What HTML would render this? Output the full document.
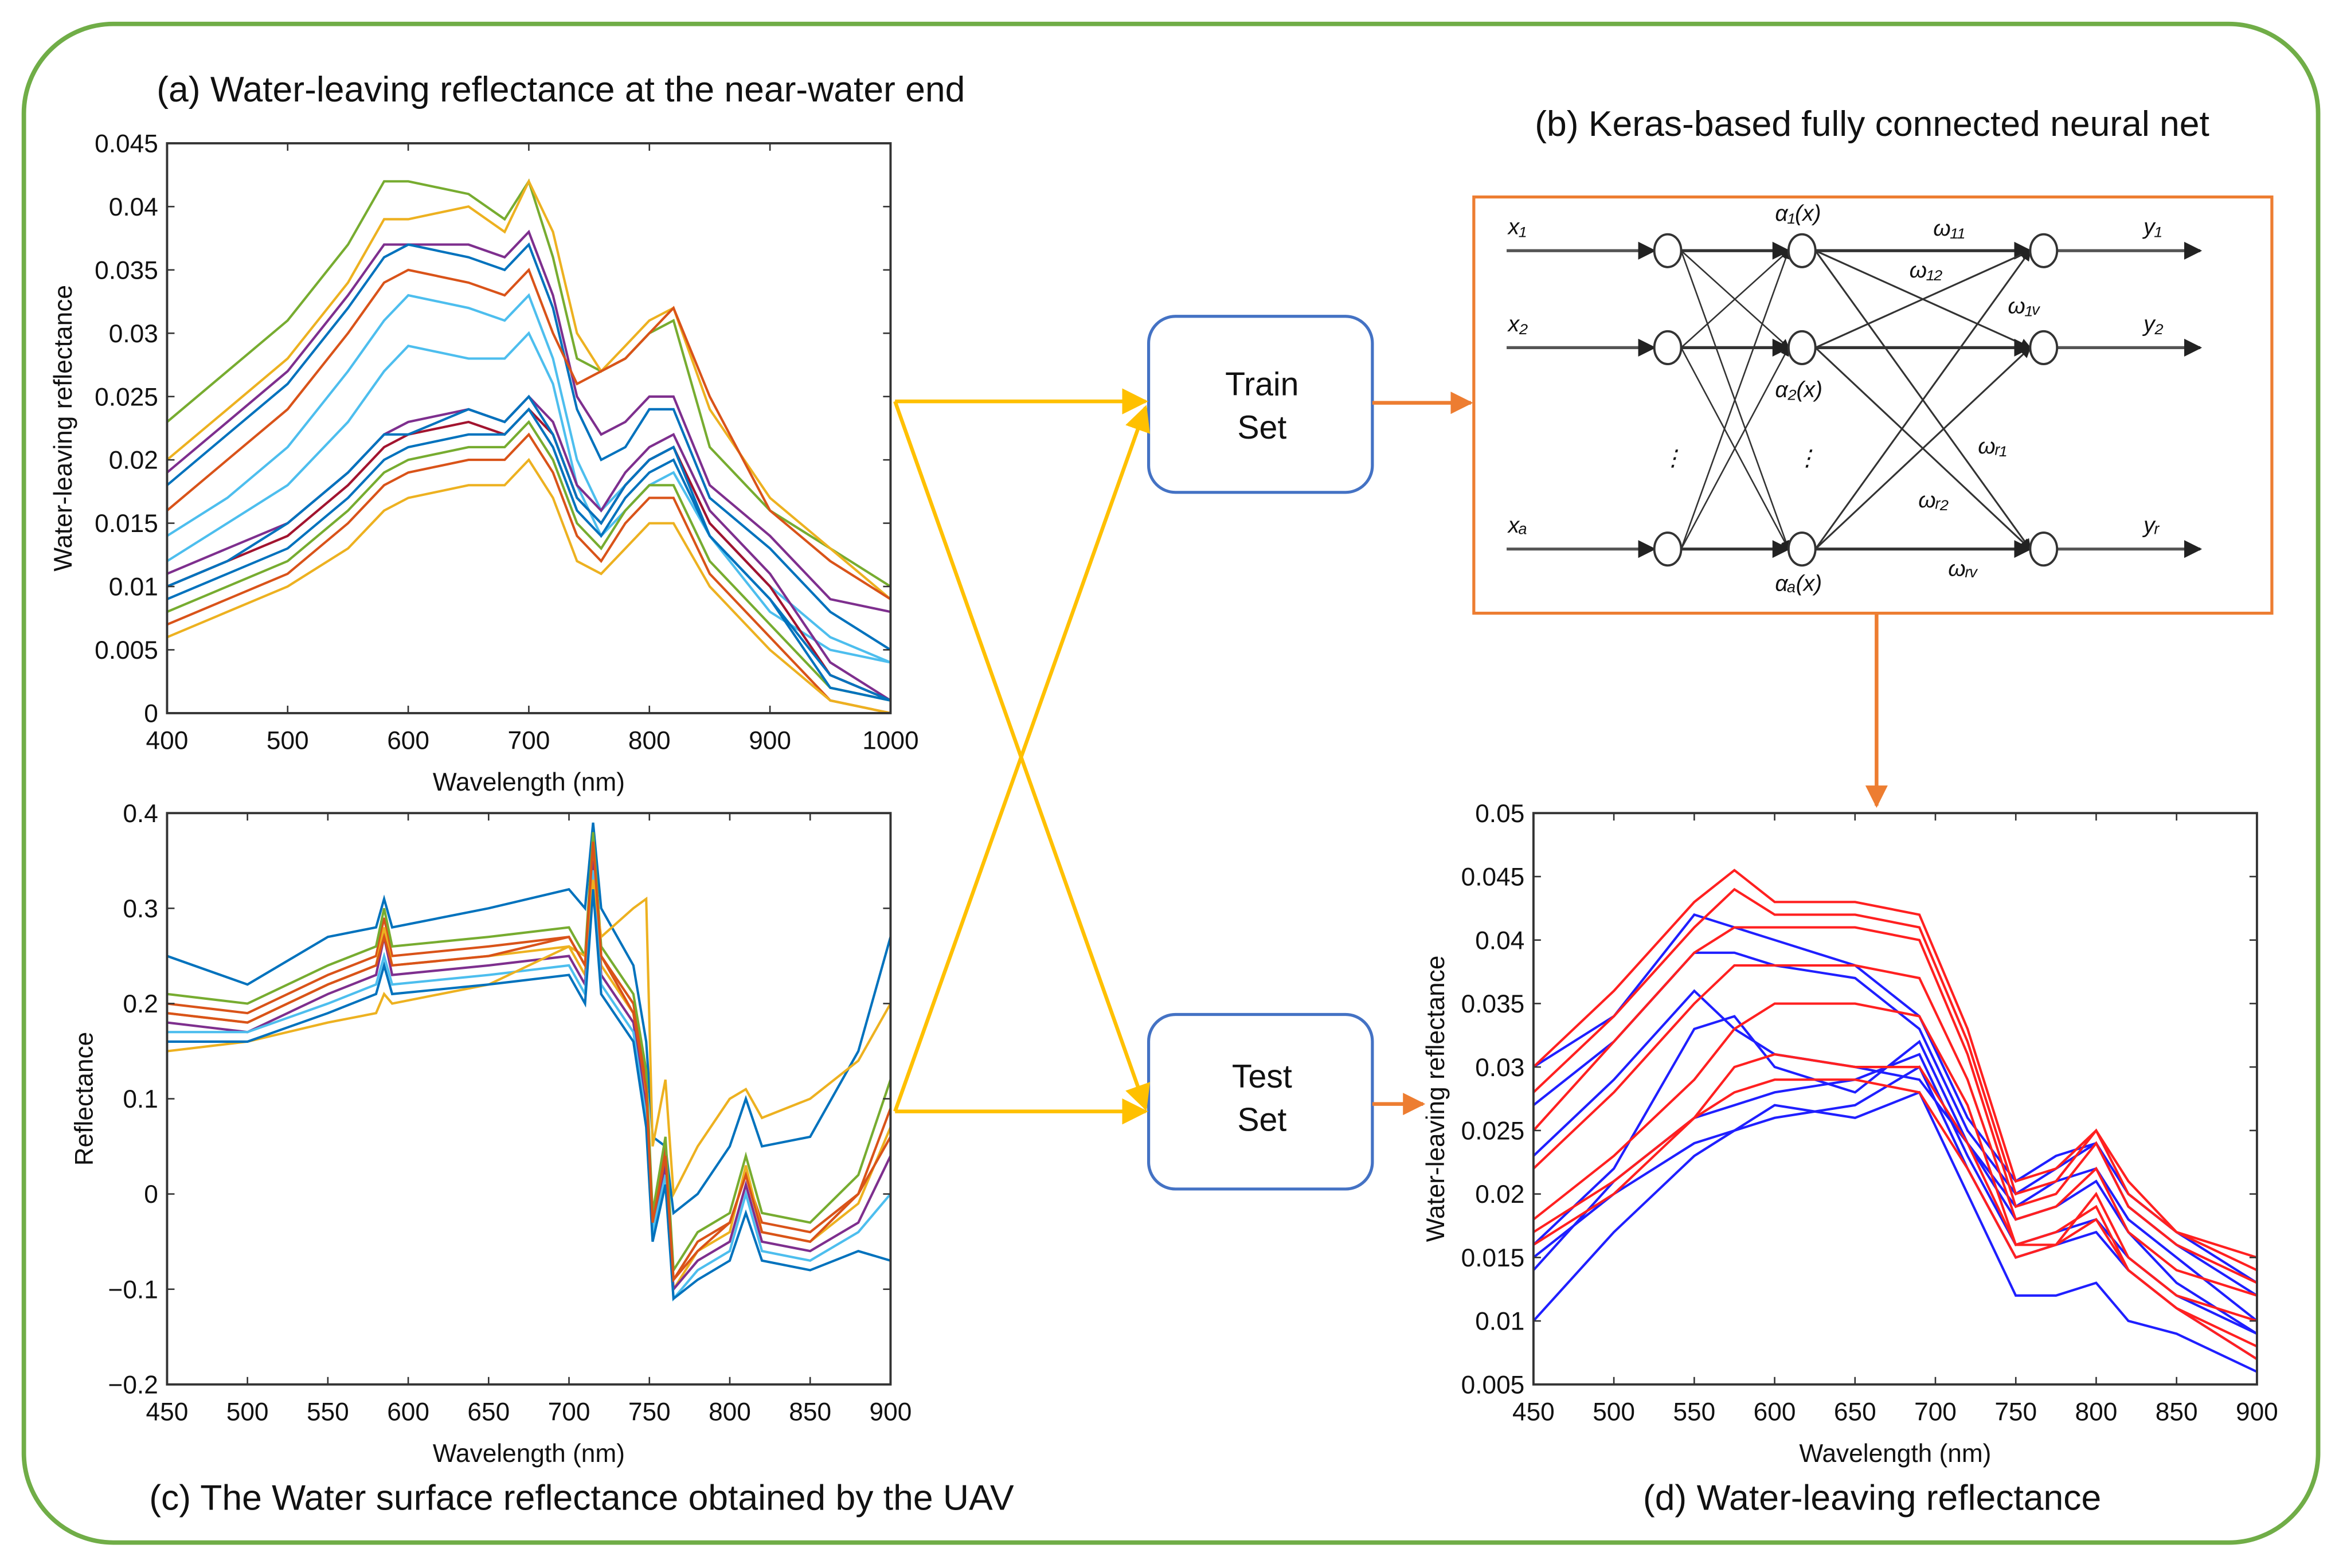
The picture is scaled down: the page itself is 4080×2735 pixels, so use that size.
<!DOCTYPE html>
<html><head><meta charset="utf-8"><style>
html,body{margin:0;padding:0;background:#fff}
svg{display:block}
text{font-family:"Liberation Sans",sans-serif;fill:#111}
</style></head><body>
<svg id="root" width="4080" height="2735" viewBox="0 0 1568 1051" xmlns="http://www.w3.org/2000/svg">
<defs>
<marker id="ay" viewBox="0 0 10 10" refX="9" refY="5" markerWidth="7" markerHeight="7" orient="auto"><path d="M0,0L10,5L0,10z" fill="#ffc000"/></marker>
<marker id="ao" viewBox="0 0 10 10" refX="9" refY="5" markerWidth="6" markerHeight="6" orient="auto"><path d="M0,0L10,5L0,10z" fill="#ed7d31"/></marker>
<marker id="ak" viewBox="0 0 10 10" refX="9" refY="5" markerWidth="6" markerHeight="6" orient="auto"><path d="M0,0L10,5L0,10z" fill="#222"/></marker>
</defs>
<rect x="16" y="16" width="1538" height="1018" rx="60" fill="none" stroke="#70ad47" stroke-width="3"/>
<text x="105" y="68" font-size="24">(a) Water-leaving reflectance at the near-water end</text>
<text x="1255" y="91" font-size="24" text-anchor="middle">(b) Keras-based fully connected neural net</text>
<text x="100" y="1012" font-size="24">(c) The Water surface reflectance obtained by the UAV</text>
<text x="1255" y="1012" font-size="24" text-anchor="middle">(d) Water-leaving reflectance</text>
<g>
<rect x="770" y="212" width="150" height="118" rx="18" fill="#fff" stroke="#4472c4" stroke-width="2"/>
<text x="846" y="265" font-size="22" text-anchor="middle">Train</text><text x="846" y="294" font-size="22" text-anchor="middle">Set</text></g>
<g>
<rect x="770" y="680" width="150" height="117" rx="18" fill="#fff" stroke="#4472c4" stroke-width="2"/>
<text x="846" y="729" font-size="22" text-anchor="middle">Test</text><text x="846" y="758" font-size="22" text-anchor="middle">Set</text></g>
<g stroke="#ffc000" stroke-width="2.5" fill="none">
<line x1="600" y1="269" x2="768" y2="269" marker-end="url(#ay)"/>
<line x1="600" y1="269" x2="768" y2="743" marker-end="url(#ay)"/>
<line x1="600" y1="745" x2="768" y2="273" marker-end="url(#ay)"/>
<line x1="600" y1="745" x2="768" y2="745" marker-end="url(#ay)"/>
</g>
<g stroke="#ed7d31" stroke-width="2.5" fill="none">
<line x1="920" y1="270" x2="986" y2="270" marker-end="url(#ao)"/>
<line x1="920" y1="740" x2="954" y2="740" marker-end="url(#ao)"/>
<line x1="1258" y1="411" x2="1258" y2="540" marker-end="url(#ao)"/>
</g>
<rect x="988" y="132" width="535" height="279" fill="#fff" stroke="#ed7d31" stroke-width="2"/>
<g id="nn"></g>
<g id="pa"></g>
<g id="pc"></g>
<g id="pd"></g>
</svg>
<script>
// Panel (a) data (reflectance in units of 0.001)
const aWave=[400,450,500,550,580,600,650,680,700,720,740,760,780,800,820,850,900,950,1000];
const aS1=[23,27,31,37,42,42,41,39,42,36,28,27,28,30,31,21,16,13,10];
const aS2=[20,24,28,34,39,39,40,38,42,38,30,27,29,31,32,24,17,13,9];
const aS3=[19,23,27,33,37,37,37,36,38,33,25,22,23,25,25,18,14,9,8];
const aS4=[18,22,26,32,36,37,36,35,37,32,24,20,21,24,24,17,13,8,5];
const aS5=[16,20,24,30,34,35,34,33,35,30,26,27,28,30,32,25,16,12,9];
const aS6=[14,17,21,27,31,33,32,31,33,28,20,16,18,20,21,15,10,6,4];
const aS7=[12,15,18,23,27,29,28,28,30,26,18,14,16,18,19,14,8,5,4];
const aS8=[11,13,15,19,22,23,24,23,25,23,18,16,19,21,22,16,11,4,1];
const aS9=[10,12,14,18,21,22,23,22,24,22,17,15,18,20,21,15,10,3,1];
const aS10=[9,11,13,17,20,21,22,22,24,21,16,14,17,19,20,14,9,3,1];
const aS11=[8,10,12,16,19,20,21,21,23,20,15,13,16,18,18,12,7,2,1];
const aS12=[7,9,11,15,18,19,20,20,22,19,14,12,15,17,17,11,6,1,0];
const aS13=[6,8,10,13,16,17,18,18,20,17,12,11,13,15,15,10,5,1,0];
const aS14=[10,12,15,19,22,22,24,23,25,22,17,15,18,20,21,14,9,2,1];
const aYTicks=["0","0.005","0.01","0.015","0.02","0.025","0.03","0.035","0.04","0.045"];
const aXTicks=["400","500","600","700","800","900","1000"];
// Panel (c) data
const cWave=[450,500,550,580,585,590,650,700,710,715,720,740,748,752,760,765,780,800,810,820,850,880,900];
const cS1=[0.25,0.22,0.27,0.28,0.31,0.28,0.30,0.32,0.30,0.39,0.30,0.24,0.16,0.06,0.05,-0.02,0.0,0.05,0.10,0.05,0.06,0.15,0.27];
const cS2=[0.20,0.19,0.23,0.25,0.29,0.25,0.26,0.27,0.24,0.37,0.25,0.20,0.12,-0.03,0.05,-0.09,-0.05,-0.03,0.02,-0.03,-0.04,0.0,0.09];
const cS3=[0.19,0.18,0.22,0.24,0.28,0.24,0.25,0.26,0.23,0.36,0.24,0.19,0.10,-0.04,0.04,-0.10,-0.06,-0.04,0.03,-0.04,-0.05,-0.01,0.07];
const cS4=[0.18,0.17,0.21,0.23,0.27,0.23,0.24,0.25,0.22,0.35,0.23,0.18,0.09,-0.03,0.03,-0.10,-0.07,-0.05,0.01,-0.05,-0.06,-0.03,0.04];
const cS5=[0.21,0.20,0.24,0.26,0.30,0.26,0.27,0.28,0.25,0.38,0.26,0.21,0.13,-0.02,0.06,-0.08,-0.04,-0.02,0.04,-0.02,-0.03,0.02,0.12];
const cS6=[0.17,0.17,0.20,0.22,0.25,0.22,0.23,0.24,0.21,0.34,0.22,0.17,0.08,-0.04,0.02,-0.11,-0.08,-0.06,0.0,-0.06,-0.07,-0.04,0.0];
const cS7=[0.15,0.16,0.18,0.19,0.21,0.20,0.22,0.26,0.25,0.33,0.27,0.30,0.31,0.05,0.12,0.0,0.05,0.10,0.11,0.08,0.10,0.14,0.20];
const cS8=[0.16,0.16,0.19,0.21,0.24,0.21,0.22,0.23,0.20,0.32,0.21,0.16,0.07,-0.05,0.01,-0.11,-0.09,-0.07,-0.02,-0.07,-0.08,-0.06,-0.07];
const cS9=[0.19,0.18,0.22,0.24,0.27,0.24,0.25,0.27,0.24,0.37,0.25,0.19,0.11,-0.03,0.04,-0.09,-0.06,-0.03,0.02,-0.04,-0.05,0.0,0.06];
const cYTicks=["\u22120.2","\u22120.1","0","0.1","0.2","0.3","0.4"];
const cXTicks=["450","500","550","600","650","700","750","800","850","900"];
// Panel (d) data (units of 0.001)
const dWave=[450,500,550,575,600,650,690,720,750,775,800,820,850,900];
const dRed1=[30,36,43,45.5,43,43,42,33,21,22,25,20,17,15];
const dRed2=[28,34,41,44,42,42,41,32,20,21,25,21,17,14];
const dRed3=[25,32,39,41,41,41,40,31,19,20,24,19,16,13];
const dRed4=[22,28,35,38,38,38,37,29,18,19,22,17,14,12];
const dRed5=[18,23,29,33,35,35,34,27,16,16,20,15,12,10];
const dRed6=[16,20,26,30,31,30,30,24,16,17,19,14,11,8];
const dRed7=[17,21,26,28,29,29,28,22,15,16,18,14,11,7];
const dBlue1=[30,34,42,41,40,38,34,26,21,23,24,20,17,13];
const dBlue2=[27,32,39,39,38,37,33,25,20,22,24,19,16,12];
const dBlue3=[23,29,36,33,31,30,29,24,19,21,22,18,15,10];
const dBlue4=[16,22,33,34,30,28,32,24,18,19,21,17,13,9];
const dBlue5=[14,21,26,27,28,29,31,23,16,17,18,15,12,9];
const dBlue6=[10,17,23,25,26,27,30,22,15,16,17,14,11,7];
const dBlue7=[15,20,24,25,27,26,28,20,12,12,13,10,9,6];
const dYTicks=["0.005","0.01","0.015","0.02","0.025","0.03","0.035","0.04","0.045","0.05"];
const dXTicks=["450","500","550","600","650","700","750","800","850","900"];

const NS="http://www.w3.org/2000/svg";
function mk(tag,attrs,parent){const e=document.createElementNS(NS,tag);for(const k in attrs)e.setAttribute(k,attrs[k]);parent.appendChild(e);return e;}
function chart(g,box,xmin,xmax,ymin,ymax,xt,yt,ylab,series){
  const sx=v=>box.x+(v-xmin)/(xmax-xmin)*box.w;
  const sy=v=>box.y+box.h-(v-ymin)/(ymax-ymin)*box.h;
  const clip="c"+g.id;
  const cp=mk("clipPath",{id:clip},g);mk("rect",{x:box.x,y:box.y,width:box.w,height:box.h},cp);
  const lg=mk("g",{"clip-path":"url(#"+clip+")"},g);
  series.forEach((s,i)=>{
    const d=s.y.map((v,j)=>(j?"L":"M")+sx(s.x[j]).toFixed(1)+","+sy(v*s.k).toFixed(1)).join("");
    const p=mk("path",{d:d,fill:"none",stroke:s.c,"stroke-width":1.6},lg);
    
    
  });
  const fr=mk("rect",{x:box.x,y:box.y,width:box.w,height:box.h,fill:"none",stroke:"#333","stroke-width":1.5},g);
  
  
  xt.forEach(t=>{const v=parseFloat(t.replace("\u2212","-"));const x=sx(v);
    mk("line",{x1:x,y1:box.y+box.h,x2:x,y2:box.y+box.h-5,stroke:"#333"},g);
    mk("line",{x1:x,y1:box.y,x2:x,y2:box.y+5,stroke:"#333"},g);
    const tx=mk("text",{x:x,y:box.y+box.h+24,"font-size":17,"text-anchor":"middle"},g);tx.textContent=t;
    
    });
  yt.forEach(t=>{const v=parseFloat(t.replace("\u2212","-"));const y=sy(v);
    mk("line",{x1:box.x,y1:y,x2:box.x+5,y2:y,stroke:"#333"},g);
    mk("line",{x1:box.x+box.w,y1:y,x2:box.x+box.w-5,y2:y,stroke:"#333"},g);
    const tx=mk("text",{x:box.x-6,y:y+6,"font-size":17,"text-anchor":"end"},g);tx.textContent=t;
    
    });
  const xl=mk("text",{x:box.x+box.w/2,y:box.y+box.h+52,"font-size":17,"text-anchor":"middle"},g);xl.textContent="Wavelength (nm)";
  
  
  const yx=box.ylx;
  const yl=mk("text",{x:yx,y:box.y+box.h/2,"font-size":17,"text-anchor":"middle",transform:"rotate(-90 "+yx+" "+(box.y+box.h/2)+")"},g);yl.textContent=ylab;
  
  
}
const col=["#0072BD","#D95319","#EDB120","#7E2F8E","#77AC30","#4DBEEE","#A2142F"];
const aList=[[aS1,"#77AC30"],[aS2,"#EDB120"],[aS3,"#7E2F8E"],[aS4,"#0072BD"],[aS5,"#D95319"],[aS6,"#4DBEEE"],[aS7,"#4DBEEE"],[aS8,"#7E2F8E"],[aS9,"#A2142F"],[aS10,"#0072BD"],[aS11,"#77AC30"],[aS12,"#D95319"],[aS13,"#EDB120"],[aS14,"#0072BD"]];
chart(document.getElementById("pa"),{x:112,y:96,w:485,h:382,ylx:48},400,1000,0,0.045,aXTicks,aYTicks,"Water-leaving reflectance",
  aList.map(a=>({x:aWave,y:a[0],k:0.001,c:a[1]})));
const cList=[cS1,cS2,cS3,cS4,cS5,cS6,cS7,cS8,cS9];
chart(document.getElementById("pc"),{x:112,y:545,w:485,h:383,ylx:62},450,900,-0.2,0.4,cXTicks,cYTicks,"Reflectance",
  cList.map((s,i)=>({x:cWave,y:s,k:1,c:i==6?"#EDB120":col[i%7]})));
const dR=[dRed1,dRed2,dRed3,dRed4,dRed5,dRed6,dRed7],dB=[dBlue1,dBlue2,dBlue3,dBlue4,dBlue5,dBlue6,dBlue7];
chart(document.getElementById("pd"),{x:1028,y:545,w:485,h:383,ylx:968},450,900,0.005,0.05,dXTicks,dYTicks,"Water-leaving reflectance",
  dB.map(s=>({x:dWave,y:s,k:0.001,c:"#1f1fff"})).concat(dR.map(s=>({x:dWave,y:s,k:0.001,c:"#ff2020"}))));

// Network diagram
const nn=document.getElementById("nn");
const rows=[168,233,368],L1=1118,L2=1208,L3=1370,r=9;
rows.forEach(y=>{
  mk("line",{x1:1010,y1:y,x2:L1-r,y2:y,stroke:"#555","stroke-width":2,"marker-end":"url(#ak)"},nn);
  mk("line",{x1:L3+r,y1:y,x2:1475,y2:y,stroke:"#555","stroke-width":2,"marker-end":"url(#ak)"},nn);
});
rows.forEach(a=>rows.forEach(b=>{
  mk("line",{x1:L1+r,y1:a,x2:L2-r,y2:b,stroke:"#333","stroke-width":a==b?2:1,"marker-end":"url(#ak)"},nn);
  mk("line",{x1:L2+r,y1:a,x2:L3-r,y2:b,stroke:"#333","stroke-width":a==b?2:1.2,"marker-end":"url(#ak)"},nn);
}));
[L1,L2,L3].forEach(x=>rows.forEach(y=>{
  const c=mk("ellipse",{cx:x,cy:y,rx:r,ry:11,fill:"#fff",stroke:"#333","stroke-width":1.5},nn);
  
  
}));
const labs=[["x\u2081",1011,157],["x\u2082",1011,222],["x\u2090",1011,357],["y\u2081",1437,157],["y\u2082",1437,222],["y\u1D63",1437,357],
["\u03B1\u2081(x)",1190,148],["\u03B1\u2082(x)",1190,266],["\u03B1\u2090(x)",1190,396],["\u03C9\u2081\u2081",1296,158],["\u03C9\u2081\u2082",1280,186],["\u03C9\u2081\u1D65",1346,210],["\u03C9\u1D63\u2081",1326,304],["\u03C9\u1D63\u2082",1286,340],["\u03C9\u1D63\u1D65",1306,386],["\u22EE",1114,312],["\u22EE",1204,312]];
labs.forEach(l=>{const t=mk("text",{x:l[1],y:l[2],"font-size":15,"font-style":"italic"},nn);t.textContent=l[0];
  
  });
</script>
</body></html>
